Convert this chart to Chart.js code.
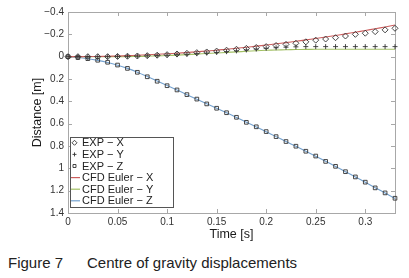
<!DOCTYPE html>
<html>
<head>
<meta charset="utf-8">
<script src="https://cdn.jsdelivr.net/npm/chart.js@4/dist/chart.umd.min.js"></script>
<style>
    html, body { margin: 0; padding: 0; background: #fff; }
    #wrap { position: relative; width: 409px; height: 278px; overflow: hidden; }
    #chart { position: absolute; left: 0; top: 0; }
    .cap { position: absolute; top: 254px; font: 15px "Liberation Sans", Arial, sans-serif; color: #222; white-space: nowrap; }
</style>
</head>
<body>
<div id="wrap">
    <canvas id="chart" width="409" height="245"></canvas>
    <div class="cap" style="left:8px">Figure 7</div>
    <div class="cap" style="left:87px">Centre of gravity displacements</div>
</div>
<script>
// time samples [s]
const time = [0, 0.01, 0.02, 0.03, 0.04, 0.05, 0.06, 0.07, 0.08, 0.09, 0.10, 0.11, 0.12, 0.13, 0.14, 0.15, 0.16,
    0.17, 0.18, 0.19, 0.20, 0.21, 0.22, 0.23, 0.24, 0.25, 0.26, 0.27, 0.28, 0.29, 0.30, 0.31, 0.32, 0.33];

// experiment
const expX = [0, 0, 0, 0, 0, -0.002, -0.004, -0.006, -0.009, -0.013, -0.018, -0.024, -0.03, -0.036, -0.042, -0.05, -0.058,
    -0.066, -0.074, -0.082, -0.09, -0.1, -0.11, -0.12, -0.133, -0.148, -0.158, -0.17, -0.185, -0.2, -0.21, -0.224, -0.24, -0.254];
const expY = [0, 0, 0, 0, 0, -0.002, -0.003, -0.005, -0.008, -0.01, -0.013, -0.018, -0.022, -0.027, -0.032, -0.038, -0.045,
    -0.052, -0.06, -0.068, -0.075, -0.08, -0.085, -0.088, -0.09, -0.09, -0.09, -0.09, -0.09, -0.09, -0.09, -0.09, -0.09, -0.09];
const expZ = [0, 0.008, 0.018, 0.032, 0.05, 0.075, 0.105, 0.14, 0.18, 0.22, 0.26, 0.298, 0.34, 0.38, 0.423, 0.462, 0.502,
    0.543, 0.588, 0.628, 0.671, 0.716, 0.76, 0.802, 0.847, 0.89, 0.938, 0.982, 1.03, 1.077, 1.124, 1.175, 1.22, 1.268];

// CFD Euler
const cfdX = [0, 0, -0.001, -0.002, -0.004, -0.006, -0.009, -0.013, -0.017, -0.021, -0.026, -0.031, -0.037, -0.044, -0.051, -0.058, -0.067,
    -0.075, -0.084, -0.094, -0.104, -0.115, -0.126, -0.138, -0.15, -0.163, -0.176, -0.19, -0.204, -0.219, -0.234, -0.25, -0.266, -0.283];
const cfdY = [0, 0, 0, 0, 0, 0, 0, -0.002, -0.004, -0.007, -0.01, -0.014, -0.018, -0.023, -0.028, -0.033, -0.038,
    -0.043, -0.048, -0.053, -0.057, -0.06, -0.062, -0.064, -0.065, -0.066, -0.066, -0.066, -0.066, -0.066, -0.066, -0.066, -0.066, -0.066];
const cfdZ = [0, 0.007, 0.018, 0.033, 0.052, 0.076, 0.105, 0.139, 0.178, 0.219, 0.259, 0.299, 0.34, 0.381, 0.422, 0.462, 0.502,
    0.544, 0.587, 0.629, 0.672, 0.716, 0.76, 0.803, 0.847, 0.891, 0.937, 0.983, 1.03, 1.077, 1.124, 1.173, 1.221, 1.27];

const xTicks = [0, 0.05, 0.1, 0.15, 0.2, 0.25, 0.3];
const xTickLabels = ['0', '0.05', '0.1', '0.15', '0.2', '0.25', '0.3'];
const yTicks = [-0.4, -0.2, 0, 0.2, 0.4, 0.6, 0.8, 1, 1.2, 1.4];
const yTickLabels = ['\u22120.4', '\u22120.2', '0', '0.2', '0.4', '0.6', '0.8', '1', '1.2', '1.4'];

const seriesLabels = ['EXP \u2212 X', 'EXP \u2212 Y', 'EXP \u2212 Z', 'CFD Euler \u2212 X', 'CFD Euler \u2212 Y', 'CFD Euler \u2212 Z'];

const FONT = '"Liberation Sans", Arial, sans-serif';
const AXIS = '#a8a8a8';

function pts(ys) {
    return time.map((t, i) => ({ x: t, y: ys[i] }));
}

function markerSet(label, ys, style, radius) {
    return {
        label: label,
        data: pts(ys),
        showLine: false,
        pointStyle: style,
        pointRadius: radius,
        pointHoverRadius: radius,
        pointBorderWidth: 0.9,
        pointBorderColor: '#333',
        pointBackgroundColor: 'rgba(0,0,0,0)',
        clip: false
    };
}

function lineSet(label, ys, color) {
    return {
        label: label,
        data: pts(ys),
        showLine: true,
        borderColor: color,
        borderWidth: 1.1,
        pointRadius: 0,
        tension: 0.3,
        clip: false
    };
}

// box, inward ticks, axis titles and legend
const frame = {
    id: 'frame',
    beforeDatasetsDraw(chart) {
        const ctx = chart.ctx;
        const a = chart.chartArea;
        const xs = chart.scales.x, ys = chart.scales.y;
        ctx.save();
        ctx.strokeStyle = AXIS;
        ctx.lineWidth = 1;
        ctx.strokeRect(Math.round(a.left) + 0.5, Math.round(a.top) + 0.5, Math.round(a.right - a.left), Math.round(a.bottom - a.top));
        ctx.beginPath();
        xTicks.forEach(v => {
            const px = Math.round(xs.getPixelForValue(v)) + 0.5;
            ctx.moveTo(px, a.bottom); ctx.lineTo(px, a.bottom - 4);
            ctx.moveTo(px, a.top); ctx.lineTo(px, a.top + 4);
        });
        yTicks.forEach(v => {
            const py = Math.round(ys.getPixelForValue(v)) + 0.5;
            ctx.moveTo(a.left, py); ctx.lineTo(a.left + 4, py);
            ctx.moveTo(a.right, py); ctx.lineTo(a.right - 4, py);
        });
        ctx.stroke();

        ctx.fillStyle = '#1a1a1a';
        ctx.font = '12.5px ' + FONT;
        ctx.textAlign = 'center';
        ctx.textBaseline = 'middle';
        ctx.fillText('Time [s]', (a.left + a.right) / 2, 235);
        ctx.translate(38, (a.top + a.bottom) / 2);
        ctx.rotate(-Math.PI / 2);
        ctx.fillText('Distance [m]', 0, 0);
        ctx.restore();
    },
    afterDraw(chart) {
        const ctx = chart.ctx;
        const bx = 70, by = 137, bw = 103, bh = 70;
        ctx.save();
        ctx.fillStyle = '#fff';
        ctx.fillRect(bx, by, bw, bh);
        ctx.strokeStyle = '#555';
        ctx.lineWidth = 1;
        ctx.strokeRect(bx + 0.5, by + 0.5, bw, bh);
        ctx.font = '11px ' + FONT;
        ctx.textAlign = 'left';
        ctx.textBaseline = 'middle';
        chart.data.datasets.forEach((ds, i) => {
            const y = by + 5.8 + 11.6 * i;
            if (ds.showLine) {
                ctx.strokeStyle = ds.borderColor;
                ctx.lineWidth = 1.2;
                ctx.beginPath();
                ctx.moveTo(71, y); ctx.lineTo(80, y);
                ctx.stroke();
            } else {
                ctx.strokeStyle = ds.pointBorderColor;
                ctx.fillStyle = 'rgba(0,0,0,0)';
                ctx.lineWidth = 0.9;
                Chart.helpers.drawPoint(ctx, { pointStyle: ds.pointStyle, radius: ds.pointRadius - 0.5, rotation: 0, borderWidth: 0.9 }, 74.5, y);
            }
            ctx.fillStyle = '#222';
            ctx.fillText(ds.label, 82, y + 0.5);
        });
        ctx.restore();
    }
};

new Chart(document.getElementById('chart').getContext('2d'), {
    type: 'scatter',
    data: {
        datasets: [
            markerSet(seriesLabels[0], expX, 'rectRot', 3),
            markerSet(seriesLabels[1], expY, 'cross', 2.5),
            markerSet(seriesLabels[2], expZ, 'rect', 2.6),
            lineSet(seriesLabels[3], cfdX, '#cc5e5e'),
            lineSet(seriesLabels[4], cfdY, '#a2c064'),
            lineSet(seriesLabels[5], cfdZ, '#74a2d0')
        ]
    },
    options: {
        responsive: false,
        animation: false,
        events: [],
        layout: { padding: { left: 0, top: 12, right: 14, bottom: 0 } },
        plugins: { legend: { display: false }, tooltip: { enabled: false } },
        scales: {
            x: {
                type: 'linear',
                min: 0,
                max: 0.33,
                grid: { display: false, drawTicks: false },
                border: { display: false },
                afterBuildTicks: s => { s.ticks = xTicks.map(v => ({ value: v })); },
                afterFit: s => { s.height = 32; },
                ticks: {
                    padding: 3,
                    maxRotation: 0,
                    autoSkip: false,
                    color: '#333',
                    font: { family: FONT, size: 10 },
                    callback: v => xTickLabels[xTicks.indexOf(v)]
                }
            },
            y: {
                type: 'linear',
                reverse: true,
                min: -0.4,
                max: 1.4,
                grid: { display: false, drawTicks: false },
                border: { display: false },
                afterBuildTicks: s => { s.ticks = yTicks.map(v => ({ value: v })); },
                afterFit: s => { s.width = 68; },
                ticks: {
                    padding: 4,
                    autoSkip: false,
                    color: '#333',
                    font: { family: FONT, size: 10 },
                    callback: v => yTickLabels[yTicks.findIndex(t => Math.abs(t - v) < 1e-9)]
                }
            }
        }
    },
    plugins: [frame]
});
</script>
</body>
</html>
